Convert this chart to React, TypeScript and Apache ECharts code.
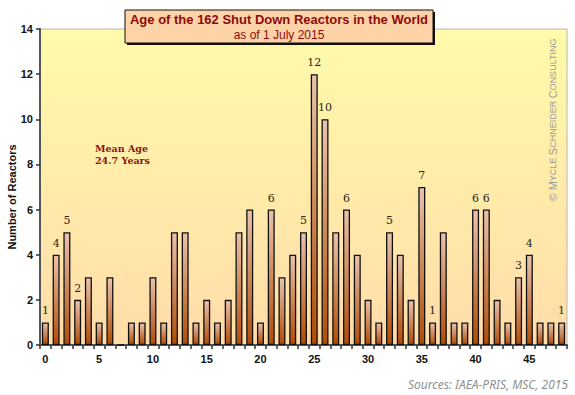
import React, { useEffect, useRef } from "react";
import * as echarts from "echarts";

const ages: string[] = Array.from({ length: 49 }, (_, i) => String(i));
const reactorCounts: number[] = [
  1, 4, 5, 2, 3, 1, 3, 0, 1, 1,
  3, 1, 5, 5, 1, 2, 1, 2, 5, 6,
  1, 6, 3, 4, 5, 12, 10, 5, 6, 4,
  2, 1, 5, 4, 2, 7, 1, 5, 1, 1,
  6, 6, 2, 1, 3, 4, 1, 1, 1,
];
const labeledAges: number[] = [0, 1, 2, 3, 21, 24, 25, 26, 28, 32, 35, 36, 40, 41, 44, 45, 48];
const yTicks = { min: 0, max: 14, interval: 2 };
const yAxisTitle = "Number of Reactors";
const titleText = "Age of the 162 Shut Down Reactors in the World";
const subtitleText = "as of 1 July 2015";
const meanText = ["Mean Age", "24.7 Years"];
const sourceText = "Sources: IAEA-PRIS, MSC, 2015";
const watermarkWords = ["MYCLE", "SCHNEIDER", "CONSULTING"];

export default function App() {
  const ref = useRef<HTMLDivElement>(null);
  useEffect(() => {
    if (!ref.current) return;
    const chart = echarts.init(ref.current, undefined, { renderer: "svg" });
    const barGradient = new echarts.graphic.LinearGradient(0, 0, 0, 1, [
      { offset: 0, color: "#E9C3AE" },
      { offset: 1, color: "#B04C06" },
    ]);
    const data = reactorCounts.map((v, i) => ({
      value: v,
      label: { show: labeledAges.includes(i) },
    }));
    const watermarkRich =
      "{b|© }" +
      watermarkWords.map((w) => `{b|${w[0]}}{s|${w.slice(1)}}`).join("{s| }");
    chart.setOption({
      animation: false,
      backgroundColor: "#ffffff",
      grid: {
        left: 40,
        top: 29,
        right: 8,
        bottom: 50,
        outerBoundsMode: "none",
        containLabel: false,
        show: true,
        borderColor: "#b5b5b5",
        borderWidth: 1,
        backgroundColor: new echarts.graphic.LinearGradient(0, 0, 0, 1, [
          { offset: 0, color: "#FFFBA9" },
          { offset: 1, color: "#FFDCA9" },
        ]),
      },
      xAxis: {
        type: "category",
        data: ages,
        boundaryGap: true,
        axisLine: { lineStyle: { color: "#555", width: 2 } },
        axisTick: { show: true, interval: 0, length: 4, lineStyle: { color: "#333", width: 1.5 } },
        axisLabel: {
          interval: (idx: number) => idx % 5 === 0,
          color: "#111",
          fontWeight: "bold",
          fontSize: 11,
          fontFamily: "Liberation Sans, Arial",
          margin: 8,
        },
        splitLine: { show: false },
      },
      yAxis: {
        type: "value",
        min: yTicks.min,
        max: yTicks.max,
        interval: yTicks.interval,
        axisLine: { show: true, lineStyle: { color: "#555", width: 2 } },
        axisTick: { show: true, length: 4, lineStyle: { color: "#333", width: 1.5 } },
        axisLabel: {
          color: "#111",
          fontWeight: "bold",
          fontSize: 11,
          fontFamily: "Liberation Sans, Arial",
          margin: 7,
        },
        splitLine: { show: false },
      },
      series: [
        {
          type: "bar",
          data,
          barWidth: 7,
          itemStyle: { color: barGradient, borderColor: "#111", borderWidth: 1.3 },
          label: {
            position: "top",
            distance: 6,
            color: "#2e2616",
            fontSize: 11,
            fontFamily: "DejaVu Serif, Liberation Serif, serif",
          },
        },
      ],
      graphic: [
        {
          type: "text",
          x: 12,
          y: 197,
          rotation: Math.PI / 2,
          z: 12,
          style: {
            text: yAxisTitle,
            align: "center",
            verticalAlign: "middle",
            fill: "#111",
            font: "bold 11px 'Liberation Sans', Arial",
          },
        },
        {
          type: "rect",
          shape: { x: 127, y: 12, width: 308, height: 33 },
          style: { fill: "#111" },
          z: 10,
        },
        {
          type: "rect",
          shape: { x: 125, y: 10, width: 308, height: 33 },
          style: { fill: "#FFD3A8", stroke: "#111", lineWidth: 1 },
          z: 11,
        },
        {
          type: "text",
          x: 279,
          y: 19,
          z: 12,
          style: {
            text: titleText,
            align: "center",
            verticalAlign: "middle",
            fill: "#8E0B0B",
            font: "bold 13px 'Liberation Sans', Arial",
          },
        },
        {
          type: "text",
          x: 279,
          y: 35,
          z: 12,
          style: {
            text: subtitleText,
            align: "center",
            verticalAlign: "middle",
            fill: "#8E0B0B",
            font: "12px 'Liberation Sans', Arial",
          },
        },
        {
          type: "text",
          x: 95,
          y: 142,
          z: 12,
          style: {
            text: meanText.join("\n"),
            fill: "#8B1414",
            lineHeight: 12,
            font: "bold 9.5px 'DejaVu Serif', 'Liberation Serif', serif",
          },
        },
        {
          type: "text",
          x: 553,
          y: 120,
          rotation: Math.PI / 2,
          z: 12,
          style: {
            text: watermarkRich,
            align: "center",
            verticalAlign: "middle",
            fill: "#9a9a9a",
            rich: {
              b: { fontSize: 11, fill: "#9a9a9a", fontFamily: "Liberation Sans, Arial" },
              s: { fontSize: 9, fill: "#9a9a9a", fontFamily: "Liberation Sans, Arial" },
            },
          },
        },
        {
          type: "text",
          x: 568,
          y: 384,
          z: 12,
          style: {
            text: sourceText,
            align: "right",
            verticalAlign: "middle",
            fill: "#8f8f8f",
            font: "italic 12px 'Noto Sans', 'Open Sans', sans-serif",
          },
        },
      ],
    });
    return () => chart.dispose();
  }, []);
  return (
    <div
      ref={ref}
      style={{ position: "fixed", left: 0, top: 0, width: 575, height: 395, background: "#fff" }}
    />
  );
}
